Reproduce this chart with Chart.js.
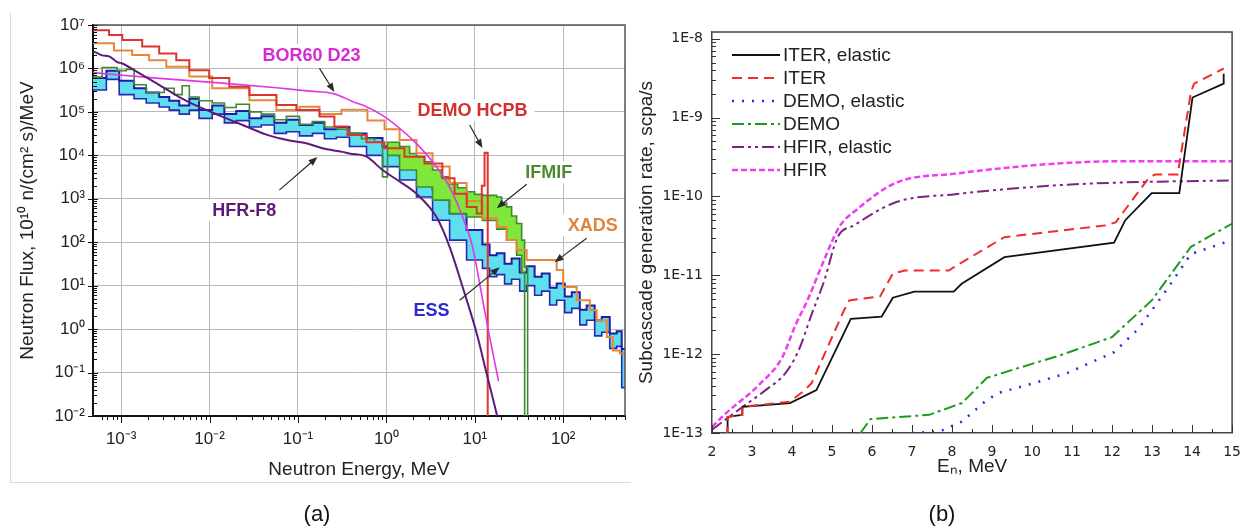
<!DOCTYPE html>
<html>
<head>
<meta charset="utf-8">
<title>Neutron spectra and subcascade generation rates</title>
<script src="https://cdn.jsdelivr.net/npm/chart.js@4/dist/chart.umd.min.js"></script>
<style>
  html, body { margin: 0; padding: 0; background: #fff; }
  body { position: relative; width: 1252px; height: 529px; overflow: hidden; font-family: "Liberation Sans", Arial, sans-serif; }
  #frameA { position: absolute; left: 10px; top: 12px; width: 620px; height: 470px; border-left: 1px solid #dadada; border-bottom: 1px solid #dadada; }
  #chartA { position: absolute; left: 0; top: 0; }
  #chartB { position: absolute; left: 632px; top: 0; }
  .tag { position: absolute; top: 501px; font-size: 22px; color: #111; transform: translateX(-50%); }
</style>
</head>
<body>
<div id="frameA"></div>
<canvas id="chartA" width="640" height="529"></canvas>
<canvas id="chartB" width="620" height="529"></canvas>
<div class="tag" style="left:317px">(a)</div>
<div class="tag" style="left:942px">(b)</div>
<script>
/*------------------------------*/
/*   (a) neutron flux spectra   */
/*------------------------------*/
// histograms: lower bin edge (MeV) and flux; last entry closes the last bin
var demoE = [4.8e-4, 7.3e-4, 1.03e-3, 1.73e-3, 2.69e-3, 4.2e-3, 5.9e-3, 9.9e-3, 1.67e-2, 2.82e-2, 5.7e-2, 9.6e-2, 0.175, 0.258, 0.363, 0.596, 0.953, 1.6, 2.7, 4.3, 5.9, 8.1, 10.5, 12.0, 12.9, 14.0]
var demoFlux = [7.6e6, 5.9e6, 4.5e6, 3.2e6, 2.2e6, 1.55e6, 9.1e5, 6.0e5, 3.8e5, 2.45e5, 1.45e5, 1.1e5, 7.8e4, 4.6e4, 2.95e4, 2.0e4, 1.45e4, 9.3e3, 6.5e3, 2.95e3, 1.3e3, 650, 460, 2.0e3, 1.15e4, 0.01]

var xadsE = [4.8e-4, 8.3e-4, 1.33e-3, 2.07e-3, 3.24e-3, 5.9e-3, 1.07e-2, 2.82e-2, 5.7e-2, 0.104, 0.175, 0.31, 0.61, 0.953, 1.41, 2.19, 3.33, 5.19, 8.07, 12.2, 17.7, 22.9, 29.7, 38.6, 84.4, 100, 142, 200, 239, 311, 364, 437, 500]
var xadsFlux = [3.8e6, 2.6e6, 2.04e6, 1.55e6, 1.1e6, 6.5e5, 3.5e5, 1.86e5, 1.1e5, 1.32e5, 8.9e4, 1.12e5, 6.3e4, 4.0e4, 2.24e4, 1.12e4, 5.5e3, 2.3e3, 890, 355, 224, 112, 66, 39, 23, 9.3, 4.6, 2.7, 1.6, 0.66, 0.32, 0.28, 0.28]

var ifmifE = [4.8e-4, 6.1e-4, 9.0e-4, 1.14e-3, 1.4e-3, 1.92e-3, 3.07e-3, 3.98e-3, 4.9e-3, 5.9e-3, 7.6e-3, 1.07e-2, 1.47e-2, 2.0e-2, 2.82e-2, 3.85e-2, 5.4e-2, 7.4e-2, 0.104, 0.146, 0.199, 0.272, 0.382, 0.523, 0.733, 0.904, 1.03, 1.41, 1.83, 2.19, 2.7, 3.33, 4.2, 5.19, 6.4, 8.07, 9.95, 12.2, 17.7, 20.1, 22.9, 26.1, 29.7, 33.9, 36.6, 39.6]
var ifmifHigh = [6.3e5, 1.05e6, 8.9e5, 9.5e5, 4.2e5, 2.8e5, 3.5e5, 2.5e5, 4.0e5, 2.2e5, 1.8e5, 1.6e5, 1.26e5, 1.5e5, 1.0e5, 8.9e4, 6.6e4, 7.9e4, 5.2e4, 6.0e4, 4.5e4, 4.0e4, 3.2e4, 2.4e4, 2.0e4, 3.2e3, 2.0e4, 1.6e4, 1.1e4, 9.3e3, 7.1e3, 4.6e3, 3.2e3, 2.2e3, 1.8e3, 1.45e3, 1.26e3, 1.2e3, 1.1e3, 800, 650, 400, 270, 112, 27, 0.01]
var ifmifLowE = [1.03, 1.41, 2.19, 3.33, 5.19, 8.07, 12.2, 17.7, 22.9, 29.7, 33.9, 36.6]
var ifmifLow = [1.0e4, 4.6e3, 1.86e3, 930, 460, 380, 316, 200, 112, 50, 20, 0.01]

var essE = [4.8e-4, 6.8e-4, 9.5e-4, 1.4e-3, 1.92e-3, 2.69e-3, 3.5e-3, 4.54e-3, 5.9e-3, 7.6e-3, 1.07e-2, 1.47e-2, 2.0e-2, 2.82e-2, 3.85e-2, 5.4e-2, 7.4e-2, 0.104, 0.146, 0.199, 0.272, 0.382, 0.596, 0.904, 1.41, 2.19, 3.33, 5.19, 8.07, 12.2, 14.7, 17.7, 21.7, 26.1, 32.2, 38.6, 47.5, 57.1, 70.3, 84.4, 104, 125, 154, 184, 227, 273, 336, 403, 459, 500]
var essHigh = [6.0e5, 8.9e5, 5.2e5, 3.5e5, 2.8e5, 2.2e5, 1.8e5, 1.4e5, 2.0e5, 1.1e5, 1.4e5, 8.9e4, 1.05e5, 7.1e4, 7.9e4, 5.6e4, 6.6e4, 5.0e4, 5.6e4, 4.0e4, 4.5e4, 3.2e4, 2.5e4, 1.6e4, 9.3e3, 4.6e3, 1.6e3, 460, 190, 89, 50, 56, 32, 42, 20, 28, 16, 19, 8.9, 11.2, 5.6, 7.1, 2.8, 3.5, 1.6, 1.9, 0.79, 0.89, 0.35, 0.35]
var essLow = [3.2e5, 5.6e5, 2.5e5, 2.0e5, 1.6e5, 1.3e5, 1.1e5, 8.9e4, 1.1e5, 7.1e4, 8.9e4, 5.6e4, 6.3e4, 4.5e4, 5.0e4, 3.2e4, 3.5e4, 2.8e4, 3.2e4, 2.4e4, 2.6e4, 1.6e4, 1.0e4, 5.5e3, 2.7e3, 1.1e3, 320, 112, 39, 25, 16, 18, 11, 14, 7.5, 10, 6.0, 7.5, 3.6, 4.6, 2.4, 3.0, 1.25, 1.6, 0.7, 0.85, 0.36, 0.4, 0.045, 0.045]

// smooth spectra
var borE = [4.8e-4, 2.49e-3, 1.39e-2, 5.7e-2, 0.135, 0.258, 0.413, 0.596, 0.904, 1.41, 2.19, 3.33, 5.19, 7.28, 9.44, 11.9, 14.7, 18.6]
var borFlux = [8.0e5, 6.0e5, 4.6e5, 3.6e5, 3.0e5, 2.6e5, 1.74e5, 1.32e5, 8.3e4, 4.2e4, 1.86e4, 7.1e3, 1.86e3, 380, 78, 6.6, 0.66, 0.063]

var hfrE = [4.8e-4, 6.1e-4, 7.3e-4, 9.0e-4, 1.03e-3, 1.6e-3, 2.49e-3, 4.54e-3, 7.6e-3, 1.39e-2, 2.6e-2, 4.4e-2, 0.08, 0.124, 0.189, 0.318, 0.382, 0.596, 0.904, 1.41, 2.19, 3.69, 5.19, 7.28, 10.5, 13.6, 17.7, 18.6]
var hfrFlux = [2.5e6, 2.0e6, 1.9e6, 1.4e6, 1.3e6, 7.8e5, 4.6e5, 2.2e5, 1.3e5, 7.8e4, 4.6e4, 3.0e4, 2.2e4, 1.9e4, 1.45e4, 1.2e4, 1.1e4, 9.3e3, 4.6e3, 2.5e3, 1.3e3, 380, 78, 9.3, 0.8, 0.095, 0.011, 0.007]

// labels with arrows, in data coordinates (MeV, flux)
var noteText = ['BOR60 D23', 'DEMO HCPB', 'IFMIF', 'XADS', 'ESS', 'HFR-F8']
var noteColor = ['#d62ad6', '#d2302c', '#4f8a2f', '#e0843a', '#2b2bd2', '#5e1a7a']
var notePos = [[0.142, 2.0e6], [9.44, 1.1e5], [68.5, 4.1e3], [216, 247], [3.24, 2.7], [0.0247, 546]]
var arrowFrom = [[0.175, 1.0e6], [8.73, 5.0e4], [38.6, 2.17e3], [184, 124], [6.73, 4.6], [0.0615, 1.58e3]]
var arrowTo = [[0.258, 2.86e5], [12.2, 1.47e4], [17.7, 607], [80, 34.6], [19.1, 26.5], [0.166, 9.1e3]]

/*------------------------------*/
/*   (b) subcascade rates       */
/*------------------------------*/
var rateLabels = ['ITER, elastic', 'ITER', 'DEMO, elastic', 'DEMO', 'HFIR, elastic', 'HFIR']
var iterElE = [2.38, 2.39, 2.75, 2.76, 3.95, 4.61, 5.47, 6.24, 6.52, 7.06, 8.04, 8.24, 9.31, 12.05, 12.33, 12.99, 13.68, 14.01, 14.79, 14.79]
var iterElRate = [9e-14, 1.6e-13, 1.7e-13, 2.15e-13, 2.4e-13, 3.5e-13, 2.8e-12, 3.0e-12, 5.2e-12, 6.2e-12, 6.2e-12, 7.8e-12, 1.7e-11, 2.6e-11, 5.0e-11, 1.1e-10, 1.1e-10, 1.8e-9, 2.7e-9, 3.6e-9]
var iterE = [2.38, 2.39, 2.75, 2.76, 3.95, 4.32, 4.49, 5.30, 5.43, 6.20, 6.52, 6.82, 7.92, 8.08, 9.31, 11.84, 12.09, 12.91, 13.07, 13.64, 13.97, 14.05, 14.79]
var iterRate = [9e-14, 1.6e-13, 1.7e-13, 2.15e-13, 2.5e-13, 3.5e-13, 4.3e-13, 3.6e-12, 4.8e-12, 5.4e-12, 1.05e-11, 1.15e-11, 1.15e-11, 1.3e-11, 3.05e-11, 4.3e-11, 4.7e-11, 1.7e-10, 1.9e-10, 1.9e-10, 2.1e-9, 2.7e-9, 4.2e-9]
var demoElE = [7.0, 7.7, 8.25, 8.82, 9.14, 10.05, 10.86, 12.05, 12.66, 13.3, 13.97, 14.9]
var demoElRate = [1e-13, 1.05e-13, 1.4e-13, 2.5e-13, 3.2e-13, 4.3e-13, 5.7e-13, 1.06e-12, 2.1e-12, 5.9e-12, 1.86e-11, 2.7e-11]
var demoRE = [5.71, 5.96, 7.43, 8.25, 8.87, 9.63, 10.71, 12.0, 12.99, 13.97, 14.99]
var demoRate = [1e-13, 1.5e-13, 1.7e-13, 2.4e-13, 5.0e-13, 6.6e-13, 9.7e-13, 1.65e-12, 4.8e-12, 2.3e-11, 4.5e-11]
var hfirElE = [2.0, 2.77, 3.34, 3.83, 4.16, 4.49, 4.81, 5.14, 5.55, 6.61, 8.08, 10.54, 12.17, 15.0]
var hfirElRate = [1.1e-13, 2.15e-13, 3.5e-13, 5.7e-13, 1.1e-12, 3.2e-12, 8.7e-12, 3.05e-11, 4.3e-11, 8.5e-11, 1.07e-10, 1.38e-10, 1.5e-10, 1.6e-10]
var hfirE = [2.0, 2.36, 3.18, 3.75, 4.08, 4.4, 4.81, 5.18, 5.63, 6.61, 8.08, 10.54, 12.17, 15.0]
var hfirRate = [1.2e-13, 1.8e-13, 4.1e-13, 9.0e-13, 2.3e-12, 5.0e-12, 1.6e-11, 4.1e-11, 6.9e-11, 1.5e-10, 1.95e-10, 2.6e-10, 2.8e-10, 2.8e-10]


Chart.defaults.font.family = '"Liberation Sans", Arial, sans-serif'
Chart.defaults.color = '#222'

var SUP = {'-': '\u207b', '0': '\u2070', '1': '\u00b9', '2': '\u00b2', '3': '\u00b3', '4': '\u2074', '5': '\u2075', '6': '\u2076', '7': '\u2077', '8': '\u2078', '9': '\u2079'}
function decadeOf(v) { return Math.round(Math.log10(v)) }
function isDecade(v) { return Math.abs(Math.log10(v) - decadeOf(v)) < 1e-6 }
// true for 1..9 times a power of ten (skips the 1.5 steps and the axis ends)
function isWholeStep(v) {
  var s = v / Math.pow(10, Math.floor(Math.log10(v) + 1e-9))
  return Math.abs(s - Math.round(s)) < 1e-6
}
function pow10Label(v) { return '10' + String(decadeOf(v)).split('').map(function (c) { return SUP[c] }).join('') }
function pts(xs, ys) { return xs.map(function (x, i) { return {x: x, y: ys[i]} }) }
function gridAtDecades(c) { return (c.tick && isDecade(c.tick.value)) ? '#b9b9b9' : 'rgba(0,0,0,0)' }

// frame on top/right plus major and minor tick marks
var axisFrame = {
  id: 'axisFrame',
  afterDraw: function (chart, args, o) {
    var ctx = chart.ctx, a = chart.chartArea, sx = chart.scales.x, sy = chart.scales.y
    ctx.save()
    ctx.strokeStyle = o.frameColor
    ctx.lineWidth = o.frameWidth
    ctx.beginPath()
    ctx.moveTo(a.left, a.top); ctx.lineTo(a.right, a.top); ctx.lineTo(a.right, a.bottom)
    ctx.stroke()
    ctx.strokeStyle = o.tickColor
    ctx.lineWidth = 1
    ctx.beginPath()
    var xv = sx.ticks.map(function (t) { return t.value })
    if (o.xHalf) xv = xv.concat(xv.map(function (v) { return v + 0.5 }))
    xv.forEach(function (v) {
      if (v < sx.min || v > sx.max) return
      if (!o.xHalf && !isWholeStep(v)) return
      var major = o.xHalf ? Number.isInteger(v) : isDecade(v)
      var p = Math.round(sx.getPixelForValue(v)) + 0.5
      ctx.moveTo(p, a.bottom)
      ctx.lineTo(p, a.bottom + o.xDir * (major ? o.xMajor : o.xMinor))
    })
    sy.ticks.forEach(function (t) {
      var v = t.value
      if (!isWholeStep(v)) return
      var p = Math.round(sy.getPixelForValue(v)) + 0.5
      if (isDecade(v)) { ctx.moveTo(a.left - o.yOut, p); ctx.lineTo(a.left + o.yMajor, p) }
      else { ctx.moveTo(a.left, p); ctx.lineTo(a.left + o.yMinor, p) }
    })
    ctx.stroke()
    ctx.restore()
  }
}

// series names written inside the plot, with arrows
var notes = {
  id: 'notes',
  beforeDatasetsDraw: function (chart) {
    var ctx = chart.ctx, sx = chart.scales.x, sy = chart.scales.y
    ctx.save()
    ctx.font = 'bold 18px "Liberation Sans", Arial, sans-serif'
    ctx.textAlign = 'center'
    ctx.textBaseline = 'middle'
    noteText.forEach(function (txt, i) {
      var x = sx.getPixelForValue(notePos[i][0]), y = sy.getPixelForValue(notePos[i][1])
      var w = ctx.measureText(txt).width
      ctx.fillStyle = '#fff'
      ctx.fillRect(x - w / 2 - 7, y - 11, w + 14, 22)
      ctx.fillStyle = noteColor[i]
      ctx.fillText(txt, x, y + 1)
    })
    ctx.restore()
  },
  afterDatasetsDraw: function (chart) {
    var ctx = chart.ctx, sx = chart.scales.x, sy = chart.scales.y
    ctx.save()
    ctx.strokeStyle = '#2a2a2a'
    ctx.fillStyle = '#2a2a2a'
    ctx.lineWidth = 1.2
    arrowFrom.forEach(function (f, i) {
      var x1 = sx.getPixelForValue(f[0]), y1 = sy.getPixelForValue(f[1])
      var x2 = sx.getPixelForValue(arrowTo[i][0]), y2 = sy.getPixelForValue(arrowTo[i][1])
      var ang = Math.atan2(y2 - y1, x2 - x1)
      ctx.beginPath()
      ctx.moveTo(x1, y1)
      ctx.lineTo(x2 - 6 * Math.cos(ang), y2 - 6 * Math.sin(ang))
      ctx.stroke()
      ctx.beginPath()
      ctx.moveTo(x2, y2)
      ctx.lineTo(x2 - 9 * Math.cos(ang) + 3.5 * Math.sin(ang), y2 - 9 * Math.sin(ang) - 3.5 * Math.cos(ang))
      ctx.lineTo(x2 - 9 * Math.cos(ang) - 3.5 * Math.sin(ang), y2 - 9 * Math.sin(ang) + 3.5 * Math.cos(ang))
      ctx.closePath()
      ctx.fill()
    })
    ctx.restore()
  }
}

// legend drawn inside the plot area, top left
var insideLegend = {
  id: 'insideLegend',
  afterDraw: function (chart, args, o) {
    var ctx = chart.ctx, a = chart.chartArea
    ctx.save()
    ctx.font = o.font
    ctx.textBaseline = 'middle'
    ctx.fillStyle = '#222'
    chart.data.datasets.forEach(function (ds, i) {
      var y = a.top + o.top + i * o.row
      ctx.strokeStyle = ds.borderColor
      ctx.lineWidth = ds.borderWidth
      ctx.setLineDash(ds.borderDash || [])
      ctx.beginPath()
      ctx.moveTo(a.left + o.left, y)
      ctx.lineTo(a.left + o.left + o.len, y)
      ctx.stroke()
      ctx.setLineDash([])
      ctx.fillText(ds.label, a.left + o.left + o.len + 3, y + 1)
    })
    ctx.restore()
  }
}

/*------------------------------*/
/*     GRAPHIQUE (a)            */
/*------------------------------*/
var ctx_a = document.getElementById('chartA').getContext('2d')

var data_a = {
  datasets: [
    {label: 'HFR-F8', data: pts(hfrE, hfrFlux), borderColor: '#5e1a7a', borderWidth: 2, cubicInterpolationMode: 'monotone', fill: false},
    {label: 'BOR60 D23', data: pts(borE, borFlux), borderColor: '#e236e2', borderWidth: 1.6, cubicInterpolationMode: 'monotone', fill: false},
    {label: 'DEMO HCPB', data: pts(demoE, demoFlux), borderColor: '#dc3530', borderWidth: 2, stepped: true, fill: false},
    {label: 'XADS', data: pts(xadsE, xadsFlux), borderColor: '#e8873a', borderWidth: 2, stepped: true, fill: false},
    {label: 'IFMIF', data: pts(ifmifE, ifmifHigh), borderColor: '#3e8a33', borderWidth: 1.6, stepped: true, fill: false},
    {label: 'IFMIF low', data: pts(ifmifLowE, ifmifLow), borderColor: '#3e8a33', borderWidth: 1.6, stepped: true, fill: '-1', backgroundColor: '#80e63a'},
    {label: 'ESS', data: pts(essE, essHigh), borderColor: '#1d1da6', borderWidth: 2, stepped: true, fill: false},
    {label: 'ESS low', data: pts(essE, essLow), borderColor: '#2828b4', borderWidth: 1.6, stepped: true, fill: '-1', backgroundColor: '#5fdeee'}
  ]
}

var config_a = {
  type: 'line',
  data: data_a,
  options: {
    responsive: false,
    animation: false,
    events: [],
    elements: {point: {radius: 0}},
    layout: {padding: {left: 0, top: 25, right: 15, bottom: 0}},
    scales: {
      x: {
        type: 'logarithmic', min: 4.8e-4, max: 500,
        afterFit: function (s) { s.height = 113 },
        grid: {color: gridAtDecades, lineWidth: 1, drawTicks: false},
        border: {display: true, color: '#111', width: 2},
        ticks: {autoSkip: false, maxRotation: 0, padding: 13, color: '#222', font: {size: 17},
          callback: function (v) { return isDecade(v) ? pow10Label(v) : '' }},
        title: {display: true, text: 'Neutron Energy, MeV', color: '#222', font: {size: 19}, padding: {top: 0, bottom: 48}}
      },
      y: {
        type: 'logarithmic', min: 0.01, max: 1e7,
        afterFit: function (s) { s.width = 93 },
        grid: {color: gridAtDecades, lineWidth: 1, drawTicks: false},
        border: {display: true, color: '#111', width: 2},
        ticks: {autoSkip: false, padding: 8, color: '#222', font: {size: 17},
          callback: function (v) { return isDecade(v) ? pow10Label(v) : '' }},
        title: {display: true, text: 'Neutron Flux, 10\u00b9\u2070 n/(cm\u00b2 s)/MeV', color: '#222', font: {size: 19}, padding: {top: 16, bottom: 0}}
      }
    },
    plugins: {
      legend: {display: false},
      tooltip: {enabled: false},
      axisFrame: {frameColor: '#555', frameWidth: 1.5, tickColor: '#111', xDir: 1, xMajor: 7, xMinor: 4, yOut: 5, yMajor: 5, yMinor: 4}
    }
  },
  plugins: [axisFrame, notes]
}
var graph_a = new Chart(ctx_a, config_a)

/*------------------------------*/
/*     GRAPHIQUE (b)            */
/*------------------------------*/
var ctx_b = document.getElementById('chartB').getContext('2d')

var data_b = {
  datasets: [
    {label: rateLabels[0], data: pts(iterElE, iterElRate), borderColor: '#111', borderWidth: 1.8, order: 1},
    {label: rateLabels[1], data: pts(iterE, iterRate), borderColor: '#f42a2a', borderWidth: 2, borderDash: [10, 6], order: 0},
    {label: rateLabels[2], data: pts(demoElE, demoElRate), borderColor: '#2a2ae6', borderWidth: 2.5, borderDash: [2, 8], order: 3},
    {label: rateLabels[3], data: pts(demoRE, demoRate), borderColor: '#1f9a1f', borderWidth: 2, borderDash: [12, 4, 3, 4], order: 2},
    {label: rateLabels[4], data: pts(hfirElE, hfirElRate), borderColor: '#7d2383', borderWidth: 2, borderDash: [12, 4, 3, 4, 3, 4], cubicInterpolationMode: 'monotone', order: 5},
    {label: rateLabels[5], data: pts(hfirE, hfirRate), borderColor: '#f03cf0', borderWidth: 2.5, borderDash: [6, 3], cubicInterpolationMode: 'monotone', order: 4}
  ]
}

var config_b = {
  type: 'line',
  data: data_b,
  options: {
    responsive: false,
    animation: false,
    events: [],
    elements: {point: {radius: 0}, line: {fill: false}},
    layout: {padding: {left: 0, top: 32, right: 10, bottom: 0}},
    scales: {
      x: {
        type: 'linear', min: 2, max: 15,
        afterFit: function (s) { s.height = 96 },
        grid: {display: false, drawTicks: false},
        border: {display: true, color: '#444', width: 1.5},
        ticks: {stepSize: 1, autoSkip: false, maxRotation: 0, padding: 11, color: '#222', font: {family: '"DejaVu Sans", sans-serif', size: 14}},
        title: {display: true, text: 'E\u2099, MeV', color: '#222', font: {size: 19}, padding: {top: 0, bottom: 51}}
      },
      y: {
        type: 'logarithmic', min: 1e-13, max: 1.22e-8,
        afterFit: function (s) { s.width = 80 },
        grid: {display: false, drawTicks: false},
        border: {display: true, color: '#444', width: 1.5},
        ticks: {autoSkip: false, padding: 9, color: '#222', font: {family: '"DejaVu Sans", sans-serif', size: 14},
          callback: function (v) { return isDecade(v) ? '1E' + decadeOf(v) : '' }},
        title: {display: true, text: 'Subcascade generation rate, scpa/s', color: '#222', font: {size: 19}, padding: {top: 3, bottom: 0}}
      }
    },
    plugins: {
      legend: {display: false},
      tooltip: {enabled: false},
      axisFrame: {frameColor: '#444', frameWidth: 1.5, tickColor: '#333', xHalf: true, xDir: -1, xMajor: 8, xMinor: 4, yOut: 0, yMajor: 8, yMinor: 4},
      insideLegend: {font: '19px "Liberation Sans", Arial, sans-serif', top: 23, row: 23, left: 20, len: 48}
    }
  },
  plugins: [axisFrame, insideLegend]
}
var graph_b = new Chart(ctx_b, config_b)
</script>
</body>
</html>
